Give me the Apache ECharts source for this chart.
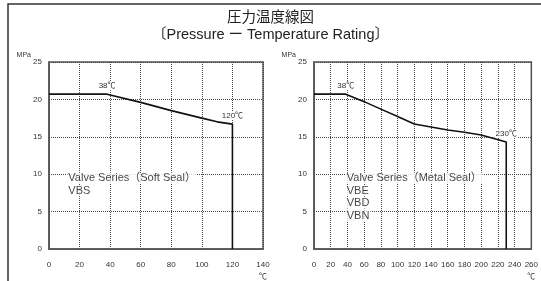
<!DOCTYPE html>
<html>
<head>
<meta charset="utf-8">
<script src="https://cdn.jsdelivr.net/npm/echarts@6/dist/echarts.min.js"></script>
<style>
  html, body { margin: 0; padding: 0; background: #fff; }
  #main { width: 541px; height: 281px; }
</style>
</head>
<body>
<div id="main"></div>
<script>
  // pressure-temperature curves [degC, MPa]
  var softSeal = [[0, 20.7], [38, 20.7], [60, 19.6], [80, 18.5], [100, 17.5], [110, 17.0], [120, 16.7], [120, 0]];
  var metalSeal = [[0, 20.7], [38, 20.7], [60, 19.7], [80, 18.7], [100, 17.7], [120, 16.7], [140, 16.3],
    [160, 15.9], [180, 15.6], [200, 15.25], [230, 14.3], [230, 0]];
  var softLabels = [{ coord: [38, 20.7], text: '38℃' }, { coord: [120, 16.7], text: '120℃' }];
  var metalLabels = [{ coord: [38, 20.7], text: '38℃' }, { coord: [230, 14.3], text: '230℃' }];
  var softNote = ['Valve Series（Soft Seal）', 'VBS'];
  var metalNote = ['Valve Series（Metal Seal）', 'VBE', 'VBD', 'VBN'];

  var font = "'Liberation Sans', 'Noto Sans CJK JP', sans-serif";
  var chart = echarts.init(document.getElementById('main'));

  function xAx(idx, max) {
    return {
      gridIndex: idx, type: 'value', min: 0, max: max, interval: 20,
      axisLine: { lineStyle: { color: '#555', width: 1.5 } },
      axisTick: { show: false },
      axisLabel: { color: '#333', fontSize: 8, fontFamily: font, margin: 12 },
      splitLine: { show: true, lineStyle: { color: '#444', type: [1, 1], width: 1 } },
      name: '℃', nameLocation: 'end', nameGap: 0,
      nameTextStyle: { color: '#333', fontSize: 8, fontFamily: font, align: 'center', verticalAlign: 'top', padding: [24, 0, 0, 0] }
    };
  }
  function yAx(idx) {
    return {
      gridIndex: idx, type: 'value', min: 0, max: 25, interval: 5,
      axisLine: { show: true, lineStyle: { color: '#555', width: 1.5 } },
      axisTick: { show: false },
      axisLabel: { color: '#333', fontSize: 8, fontFamily: font, margin: 7 },
      splitLine: { show: true, lineStyle: { color: '#444', type: [1, 1], width: 1 } },
      name: 'MPa', nameLocation: 'end', nameGap: 2,
      nameTextStyle: { color: '#333', fontSize: 7, fontFamily: font, align: 'right', padding: [0, 18, 0, 0] }
    };
  }
  function labelPoints(list) {
    return list.map(function (l) {
      return { coord: l.coord, value: l.text };
    });
  }
  function curve(idx, data, labels) {
    return {
      type: 'line', xAxisIndex: idx, yAxisIndex: idx, data: data,
      showSymbol: false, z: 5,
      lineStyle: { color: '#111', width: 1.6 },
      markPoint: {
        symbol: 'circle', symbolSize: 0,
        label: {
          show: true, formatter: '{c}', color: '#333', fontSize: 8, fontFamily: font,
          position: 'top', distance: 4, backgroundColor: '#fff', padding: [0, 1]
        },
        data: labelPoints(labels)
      }
    };
  }
  function note(idx, lines, x, y) {
    return {
      type: 'scatter', xAxisIndex: idx, yAxisIndex: idx, symbolSize: 0, z: 6,
      data: [[x, y]],
      label: {
        show: true, position: 'right', distance: 0, verticalAlign: 'top',
        formatter: lines.map(function (s) { return '{t|' + s + '}'; }).join('\n'),
        rich: {
          t: { color: '#111', fontSize: 11, fontFamily: font, lineHeight: 12.5, backgroundColor: '#fff', padding: [0, 1] }
        }
      }
    };
  }

  chart.setOption({
    animation: false,
    title: {
      text: '圧力温度線図\n〔Pressure ー Temperature Rating〕',
      left: 'center', top: 4,
      textStyle: { color: '#222', fontSize: 14.5, fontWeight: 'normal', fontFamily: font, lineHeight: 17 }
    },
    graphic: [{
      type: 'rect', shape: { x: 8, y: 4, width: 600, height: 320 },
      style: { fill: null, stroke: '#333', lineWidth: 1.5 }, silent: true
    }],
    grid: [
      { left: 49, top: 62, width: 214, height: 188, show: true, borderColor: '#555', borderWidth: 1.5 },
      { left: 314, top: 62, width: 218, height: 187, show: true, borderColor: '#555', borderWidth: 1.5 }
    ],
    xAxis: [xAx(0, 140), xAx(1, 260)],
    yAxis: [yAx(0), yAx(1)],
    series: [
      curve(0, softSeal, softLabels),
      curve(1, metalSeal, metalLabels),
      note(0, softNote, 12, 10.3),
      note(1, metalNote, 38, 10.3)
    ]
  });
</script>
</body>
</html>
